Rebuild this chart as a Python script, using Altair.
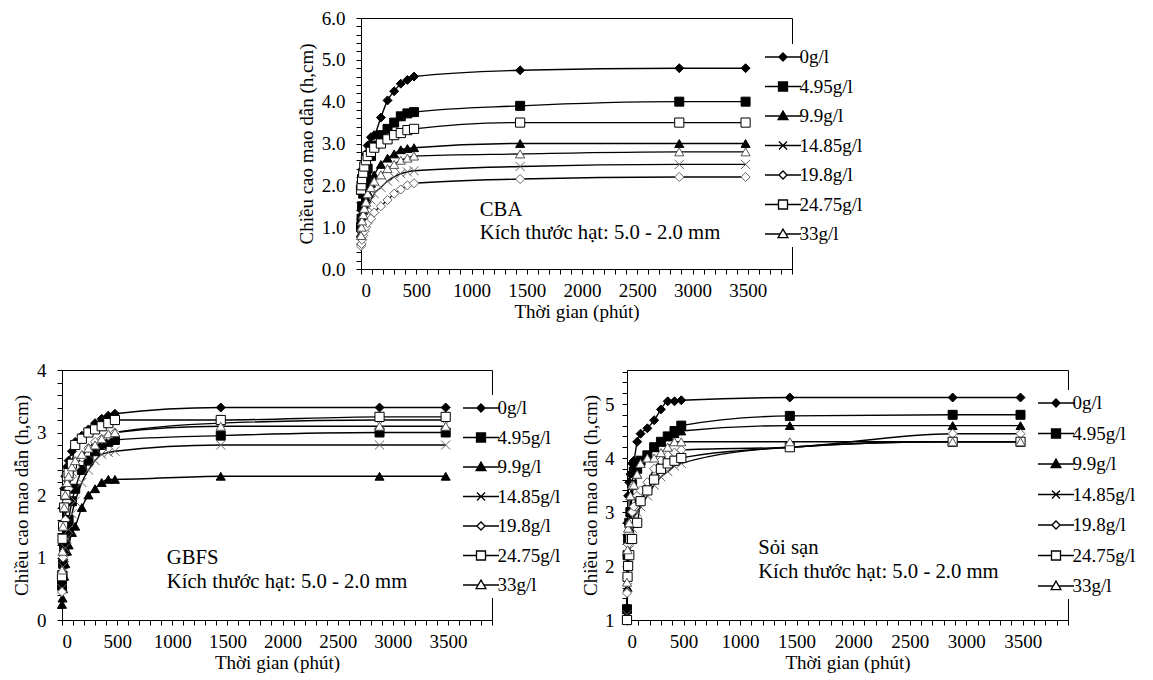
import altair as alt
import pandas as pd

FONT = "Liberation Serif"
FS = 19
FS_ANN = 20.7

TIMES = [0, 5, 10, 20, 30, 45, 60, 90, 120, 180, 240, 300, 360, 420, 480, 1440, 2880, 3480]
SERIES = ["0g/l", "4.95g/l", "9.9g/l", "14.85g/l", "19.8g/l", "24.75g/l", "33g/l"]

# CBA
CBA_0 = [0.9, 1.4, 1.8, 2.2, 2.5, 2.75, 2.95, 3.15, 3.2, 3.62, 4.03, 4.25, 4.43, 4.52, 4.6, 4.75, 4.8, 4.8]
CBA_495 = [1.0, 1.2, 1.5, 1.8, 2.0, 2.2, 2.4, 2.7, 2.95, 3.2, 3.35, 3.5, 3.65, 3.72, 3.75, 3.9, 4.0, 4.0]
CBA_99 = [0.85, 1.0, 1.2, 1.4, 1.55, 1.7, 1.85, 2.05, 2.25, 2.5, 2.65, 2.75, 2.85, 2.88, 2.9, 3.0, 3.0, 3.0]
CBA_1485 = [0.7, 0.8, 0.95, 1.1, 1.25, 1.4, 1.5, 1.65, 1.8, 1.95, 2.1, 2.2, 2.28, 2.32, 2.35, 2.45, 2.5, 2.5]
CBA_198 = [0.55, 0.6, 0.7, 0.8, 0.9, 1.0, 1.1, 1.2, 1.35, 1.5, 1.65, 1.8, 1.9, 2.0, 2.05, 2.15, 2.2, 2.2]
CBA_2475 = [1.9, 2.0, 2.15, 2.3, 2.45, 2.6, 2.7, 2.8, 2.9, 3.0, 3.1, 3.2, 3.25, 3.32, 3.35, 3.5, 3.5, 3.5]
CBA_33 = [0.8, 1.0, 1.15, 1.3, 1.45, 1.6, 1.8, 1.95, 2.1, 2.25, 2.4, 2.5, 2.6, 2.65, 2.7, 2.75, 2.8, 2.8]

# GBFS
G_0 = [0.5, 1.2, 1.8, 2.1, 2.3, 2.45, 2.55, 2.7, 2.85, 2.95, 3.05, 3.15, 3.22, 3.27, 3.3, 3.4, 3.4, 3.4]
G_495 = [0.55, 0.7, 0.9, 1.1, 1.3, 1.45, 1.6, 1.9, 2.1, 2.4, 2.55, 2.7, 2.8, 2.85, 2.88, 2.95, 3.0, 3.0]
G_99 = [0.25, 0.35, 0.5, 0.7, 0.9, 1.1, 1.2, 1.4, 1.5, 1.8, 2.0, 2.1, 2.2, 2.25, 2.25, 2.3, 2.3, 2.3]
G_1485 = [0.5, 0.7, 0.85, 1.0, 1.15, 1.3, 1.45, 1.7, 1.9, 2.2, 2.4, 2.55, 2.65, 2.68, 2.7, 2.8, 2.8, 2.8]
G_198 = [0.45, 0.7, 1.0, 1.3, 1.6, 1.9, 2.1, 2.3, 2.45, 2.6, 2.75, 2.85, 2.9, 2.95, 3.0, 3.15, 3.2, 3.2]
G_2475 = [0.7, 1.3, 1.5, 1.8, 2.0, 2.3, 2.35, 2.5, 2.8, 2.9, 3.0, 3.05, 3.1, 3.15, 3.2, 3.2, 3.25, 3.25]
G_33 = [0.8, 1.1, 1.5, 1.8, 2.0, 2.2, 2.3, 2.45, 2.55, 2.65, 2.75, 2.8, 2.9, 2.98, 3.0, 3.1, 3.1, 3.1]

# Sỏi sạn
S_0 = [1.2, 2.8, 3.3, 3.55, 3.7, 3.9, 3.95, 4.3, 4.45, 4.55, 4.7, 4.9, 5.05, 5.05, 5.07, 5.12, 5.12, 5.12]
S_495 = [1.2, 2.2, 2.5, 2.8, 3.0, 3.5, 3.75, 3.8, 3.95, 4.05, 4.2, 4.3, 4.4, 4.5, 4.6, 4.78, 4.8, 4.8]
S_99 = [1.1, 1.6, 2.3, 2.7, 3.0, 3.3, 3.5, 3.7, 3.9, 4.05, 4.2, 4.3, 4.4, 4.45, 4.5, 4.6, 4.6, 4.6]
S_1485 = [1.1, 1.6, 2.0, 2.3, 2.5, 2.7, 2.9, 3.0, 3.1, 3.3, 3.5, 3.65, 3.75, 3.85, 3.9, 4.2, 4.3, 4.3]
S_198 = [1.5, 2.0, 2.4, 2.6, 2.8, 3.0, 3.1, 3.3, 3.4, 3.55, 3.8, 3.95, 4.05, 4.1, 4.15, 4.2, 4.45, 4.45]
S_2475 = [1.0, 1.8, 2.0, 2.2, 2.5, 2.5, 2.8, 2.8, 3.2, 3.4, 3.6, 3.8, 3.9, 3.95, 4.0, 4.2, 4.3, 4.3]
S_33 = [1.7, 2.3, 2.7, 2.8, 3.3, 3.5, 3.5, 3.7, 3.9, 4.0, 4.0, 4.1, 4.2, 4.3, 4.3, 4.3, 4.3, 4.3]

PLOT_SHAPES = ["diamond", "square", "triangle-up", "M-1,-1L1,1M-1,1L1,-1",
               "diamond", "square", "triangle-up"]
PLOT_SIZES = [80, 85, 85, 60, 70, 100, 85]
FILLS = ["black", "black", "black", "black", "white", "white", "white"]
STROKES = ["black", "black", "black", "#666666", "#666666", "black", "#555555"]
LEGEND_STROKES = ["black"] * 7
LEGEND_SHAPES = [
    "M-2,0H2M-0.45,0L0,-0.45L0.45,0L0,0.45Z",
    "M-2,0H2M-0.5,-0.5H0.5V0.5H-0.5Z",
    "M-2,0H2M0,-0.55L0.55,0.4H-0.55Z",
    "M-2,0H2M-0.45,-0.45L0.45,0.45M-0.45,0.45L0.45,-0.45",
    "M-2,0H-0.45M0.45,0H2M-0.45,0L0,-0.45L0.45,0L0,0.45Z",
    "M-2,0H-0.5M0.5,0H2M-0.5,-0.5H0.5V0.5H-0.5Z",
    "M-2,0H-0.32M0.32,0H2M0,-0.55L0.55,0.4H-0.55Z",
]


def frame(cols):
    rows = []
    for s, vals in zip(SERIES, cols):
        for t, v in zip(TIMES, vals):
            rows.append({"t": t, "h": v, "series": s})
    return pd.DataFrame(rows)


def panel(cols, ydom, yfmt, width, height, lx, ly, rowpad, name, kich,
          ann_t, ann_h1, ann_h2, ylabpad, ytitlepad, xtitle):
    df = frame(cols)
    nsteps = int((ydom[1] - ydom[0]) / 0.2 + 1e-6)
    yvals = [round(ydom[0] + 0.2 * i, 1) for i in range(nsteps + 1)]
    x = alt.X("t:Q", scale=alt.Scale(domain=[0, 3900], nice=False, zero=False),
              axis=alt.Axis(values=list(range(0, 3901, 100)),
                            labelExpr="(datum.value % 500 === 0 && datum.value <= 3500) ? format(datum.value, 'd') : ''",
                            labelOverlap=False, labelPadding=7, titlePadding=2, title=xtitle))
    y = alt.Y("h:Q", scale=alt.Scale(domain=ydom, nice=False, zero=False),
              axis=alt.Axis(values=yvals,
                            labelExpr="abs(datum.value - round(datum.value)) < 0.001 ? format(datum.value, '" + yfmt + "') : ''",
                            labelOverlap=False, labelPadding=ylabpad, titlePadding=ytitlepad,
                            title="Chiều cao mao dẫn  (h,cm)"))
    base = alt.Chart(df)
    lines = base.mark_line(interpolate="monotone", color="black", strokeWidth=1.4).encode(
        x=x, y=y, detail="series:N")
    pts = base.mark_point(filled=True, opacity=1, strokeWidth=1).encode(
        x=x, y=y,
        shape=alt.Shape("series:N", scale=alt.Scale(domain=SERIES, range=PLOT_SHAPES), legend=None),
        fill=alt.Fill("series:N", scale=alt.Scale(domain=SERIES, range=FILLS), legend=None),
        stroke=alt.Stroke("series:N", scale=alt.Scale(domain=SERIES, range=STROKES), legend=None),
        size=alt.Size("series:N", scale=alt.Scale(domain=SERIES, range=PLOT_SIZES), legend=None),
    )
    leg = alt.Legend(orient="none", legendX=lx, legendY=ly, title=None, symbolSize=324,
                     symbolStrokeWidth=1.3, symbolStrokeColor="black", symbolOpacity=1,
                     labelFont=FONT, labelFontSize=FS, labelColor="black", labelOffset=6.5,
                     rowPadding=rowpad, padding=3, fillColor="white", labelLimit=0)
    legend_layer = base.transform_filter("false").mark_point(
        filled=True, opacity=1, strokeWidth=1.3, size=324).encode(
        x=x, y=y,
        shape=alt.Shape("series:N", scale=alt.Scale(domain=SERIES, range=LEGEND_SHAPES), legend=leg),
        fill=alt.Fill("series:N", scale=alt.Scale(domain=SERIES, range=FILLS), legend=leg),
        stroke=alt.Stroke("series:N", scale=alt.Scale(domain=SERIES, range=LEGEND_STROKES), legend=leg),
    )
    ann_df = pd.DataFrame({"t": [ann_t, ann_t], "h": [ann_h1, ann_h2], "txt": [name, kich]})
    ann = alt.Chart(ann_df).mark_text(align="left", baseline="middle", font=FONT,
                                      fontSize=FS_ANN, color="black").encode(
        x=x, y=y, text="txt:N")
    return alt.layer(lines, pts, legend_layer, ann).resolve_scale(
        shape="independent", fill="independent", stroke="independent", size="independent"
    ).properties(width=width, height=height)


top = panel([CBA_0, CBA_495, CBA_99, CBA_1485, CBA_198, CBA_2475, CBA_33],
            [0, 6], ".1f", 431, 251, 409, 26, 9.5, "CBA",
            "Kích thước hạt: 5.0 - 2.0 mm", 1075, 1.4, 0.87, 11, 5, "Thời gian (phút)")
bl = panel([G_0, G_495, G_99, G_1485, G_198, G_2475, G_33],
           [0, 4], ".0f", 430, 250, 406, 25, 9.5, "GBFS",
           "Kích thước hạt:  5.0 - 2.0 mm", 950, 0.99, 0.61, 11, 5, "Thời gian  (phút)")
br = panel([S_0, S_495, S_99, S_1485, S_198, S_2475, S_33],
           [1, 5.63], ".0f", 441, 250, 416, 20, 10.5, "Sỏi sạn",
           "Kích thước hạt:  5.0 - 2.0 mm", 1160, 2.33, 1.88, 8, 4, "Thời gian  (phút)")

# empty layout spacer that shifts the top panel to the right
spacer = alt.Chart(pd.DataFrame({"v": [0]})).mark_text().encode(
    text=alt.value("")
).properties(width=233, height=1, view=alt.ViewConfig(stroke="transparent"))

row1 = alt.hconcat(spacer, top, spacing=0)
row2 = alt.hconcat(bl, br, spacing=135, bounds="flush")

chart = alt.vconcat(row1, row2, spacing=38).properties(
    padding={"left": 4, "top": 0, "right": 0, "bottom": 0}
).configure_view(stroke="black", strokeWidth=1).configure_axis(
    domainColor="black", tickColor="black", labelColor="black", titleColor="black",
    grid=False, labelFont=FONT, titleFont=FONT, labelFontSize=FS, titleFontSize=FS,
    titleFontWeight="normal", tickSize=5, domainWidth=1, tickWidth=1, labelOverlap=False
)

chart.save("out.html", embed_options={"renderer": "svg", "actions": False})
